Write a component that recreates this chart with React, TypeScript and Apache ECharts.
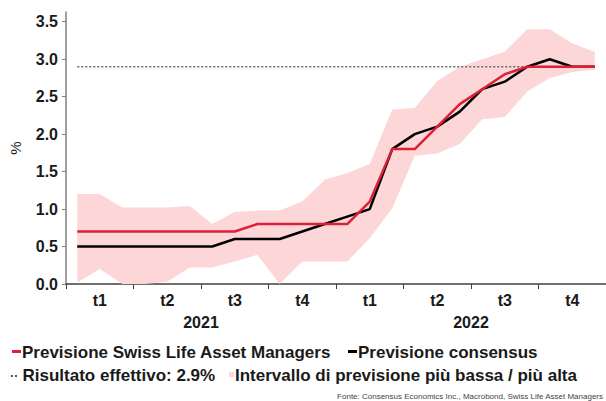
import React, { useEffect, useRef } from "react";
import * as echarts from "echarts";

const months = [
  "gen 21", "feb 21", "mar 21", "apr 21", "mag 21", "giu 21",
  "lug 21", "ago 21", "set 21", "ott 21", "nov 21", "dic 21",
  "gen 22", "feb 22", "mar 22", "apr 22", "mag 22", "giu 22",
  "lug 22", "ago 22", "set 22", "ott 22", "nov 22", "dic 22",
];
const quarterLabels = ["t1", "t2", "t3", "t4", "t1", "t2", "t3", "t4"];
const years = ["2021", "2022"];
const yTicks = [0, 0.5, 1.0, 1.5, 2.0, 2.5, 3.0, 3.5];

const slamForecast = [0.7, 0.7, 0.7, 0.7, 0.7, 0.7, 0.7, 0.7, 0.8, 0.8, 0.8, 0.8, 0.8, 1.1, 1.8, 1.8, 2.1, 2.4, 2.6, 2.8, 2.9, 2.9, 2.9, 2.9];
const consensus = [0.5, 0.5, 0.5, 0.5, 0.5, 0.5, 0.5, 0.6, 0.6, 0.6, 0.7, 0.8, 0.9, 1.0, 1.8, 2.0, 2.1, 2.3, 2.6, 2.7, 2.9, 3.0, 2.9, 2.9];
const forecastHigh = [1.2, 1.2, 1.02, 1.02, 1.02, 1.04, 0.8, 0.96, 0.98, 0.98, 1.1, 1.39, 1.48, 1.6, 2.33, 2.35, 2.71, 2.9, 3.0, 3.1, 3.4, 3.4, 3.21, 3.1];
const forecastLow = [0.02, 0.2, 0.0, 0.0, 0.03, 0.22, 0.22, 0.3, 0.39, 0.0, 0.3, 0.3, 0.3, 0.61, 1.01, 1.71, 1.74, 1.87, 2.2, 2.23, 2.57, 2.75, 2.83, 2.86];
const actualResult = [2.9, 2.9, 2.9, 2.9, 2.9, 2.9, 2.9, 2.9, 2.9, 2.9, 2.9, 2.9, 2.9, 2.9, 2.9, 2.9, 2.9, 2.9, 2.9, 2.9, 2.9, 2.9, 2.9, 2.9];

const NAME_SLAM = "Previsione Swiss Life Asset Managers";
const NAME_CONS = "Previsione consensus";
const NAME_ACT = "Risultato effettivo: 2.9%";
const NAME_BAND = "Intervallo di previsione più bassa / più alta";

const RED = "#dc2038";
const PINK = "#fdd6d7";
const FONT = "'Liberation Sans', Arial, sans-serif";
const TXT = "#1a1a1a";

export default function App() {
  const ref = useRef<HTMLDivElement>(null);

  useEffect(() => {
    document.body.style.margin = "0";
    if (!ref.current) return;
    const chart = echarts.init(ref.current, null, { renderer: "svg" });
    const bandDiff = forecastHigh.map((h, i) => +(h - forecastLow[i]).toFixed(3));

    const legendFont = `bold 17px ${FONT}`;
    chart.setOption({
      animation: false,
      backgroundColor: "#ffffff",
      textStyle: { fontFamily: FONT },
      grid: { left: 61, top: 12, width: 552, height: 272, containLabel: false },
      xAxis: [
        {
          type: "category",
          data: months,
          boundaryGap: true,
          axisLine: { lineStyle: { color: "#404040", width: 1.5 } },
          axisTick: {
            show: true,
            interval: (i: number) => i % 3 === 0,
            length: 5,
            lineStyle: { color: "#404040", width: 1 },
          },
          axisLabel: {
            interval: (i: number) => i % 3 === 1,
            formatter: (_v: string, i: number) => quarterLabels[Math.floor(i / 3)],
            fontSize: 16,
            fontWeight: "bold",
            color: TXT,
            margin: 8,
          },
          splitLine: { show: false },
        },
        {
          type: "category",
          data: years,
          position: "bottom",
          offset: 0,
          boundaryGap: true,
          axisLine: { show: false },
          axisTick: { show: false },
          axisLabel: { fontSize: 16, fontWeight: "bold", color: TXT, margin: 30 },
          splitLine: { show: false },
        },
      ],
      yAxis: {
        type: "value",
        min: 0,
        max: 3.63,
        interval: 0.5,
        name: "%",
        nameLocation: "middle",
        nameRotate: 90,
        nameGap: 43,
        nameTextStyle: { fontSize: 15, color: TXT },
        axisLine: { show: true, lineStyle: { color: "#808080", width: 1.5 } },
        axisTick: {
          show: true,
          length: 4,
          customValues: yTicks,
          lineStyle: { color: "#808080" },
        },
        axisLabel: {
          customValues: yTicks,
          formatter: (v: number) => (v > 3.55 ? "" : v.toFixed(1)),
          fontSize: 16,
          fontWeight: "bold",
          color: TXT,
          margin: 8,
        },
        splitLine: { show: false },
      },
      series: [
        {
          name: "lower",
          type: "line",
          data: forecastLow,
          stack: "band",
          symbol: "none",
          lineStyle: { width: 0, opacity: 0 },
          silent: true,
        },
        {
          name: NAME_BAND,
          type: "line",
          data: bandDiff,
          stack: "band",
          symbol: "none",
          lineStyle: { width: 0, opacity: 0 },
          itemStyle: { color: PINK },
          areaStyle: { color: PINK, opacity: 1 },
          silent: true,
        },
        {
          name: NAME_ACT,
          type: "line",
          data: actualResult,
          symbol: "none",
          lineStyle: { color: "#666666", width: 1.5, type: [2, 2] },
          itemStyle: { color: "#666666" },
        },
        {
          name: NAME_CONS,
          type: "line",
          data: consensus,
          symbol: "none",
          lineStyle: { color: "#000000", width: 2.5 },
          itemStyle: { color: "#000000" },
        },
        {
          name: NAME_SLAM,
          type: "line",
          data: slamForecast,
          symbol: "none",
          lineStyle: { color: RED, width: 2.5 },
          itemStyle: { color: RED },
        },
      ],
      graphic: [
        { type: "rect", shape: { x: 12, y: 350, width: 9, height: 3 }, style: { fill: RED } },
        { type: "text", x: 22, y: 352, style: { text: NAME_SLAM, font: legendFont, fill: TXT, verticalAlign: "middle" } },
        { type: "rect", shape: { x: 348, y: 350, width: 9, height: 3 }, style: { fill: "#000" } },
        { type: "text", x: 358, y: 352, style: { text: NAME_CONS, font: legendFont, fill: TXT, verticalAlign: "middle" } },
        { type: "rect", shape: { x: 11, y: 375, width: 2, height: 2 }, style: { fill: "#555" } },
        { type: "rect", shape: { x: 15, y: 375, width: 2, height: 2 }, style: { fill: "#555" } },
        { type: "text", x: 22.5, y: 375, style: { text: NAME_ACT, font: legendFont, fill: TXT, verticalAlign: "middle" } },
        { type: "rect", shape: { x: 229, y: 372, width: 5, height: 5 }, style: { fill: PINK } },
        { type: "text", x: 235, y: 375, style: { text: NAME_BAND, font: legendFont, fill: TXT, verticalAlign: "middle" } },
        {
          type: "text",
          x: 603,
          y: 396,
          style: {
            text: "Fonte: Consensus Economics Inc., Macrobond, Swiss Life Asset Managers",
            font: `8px ${FONT}`,
            fill: "#444",
            align: "right",
            verticalAlign: "middle",
          },
        },
      ],
    });
    return () => chart.dispose();
  }, []);

  return <div ref={ref} style={{ width: 606, height: 401 }} />;
}
